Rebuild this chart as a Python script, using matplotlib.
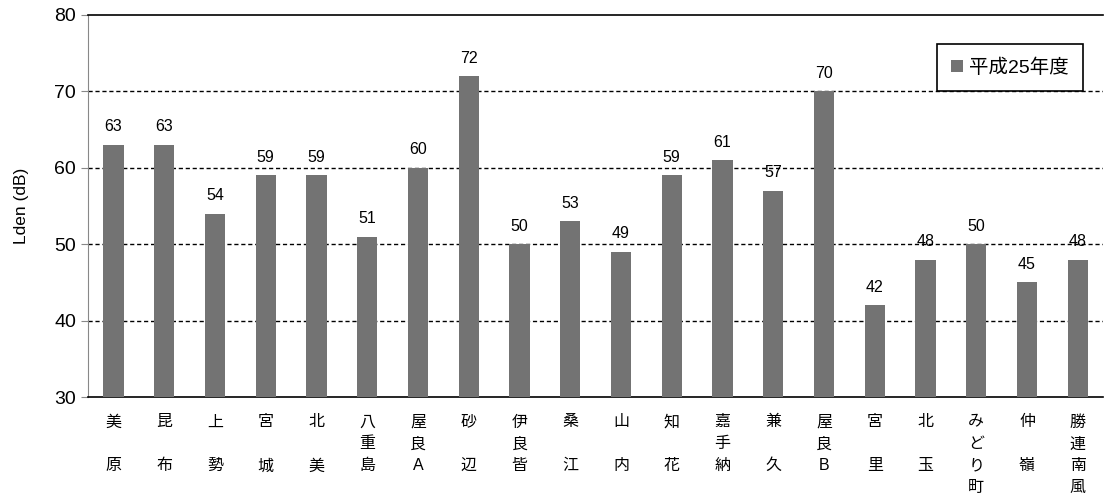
import numpy as np
import matplotlib
matplotlib.use('Agg')
import matplotlib.pyplot as plt

plt.rcParams['font.family'] = ['Liberation Sans', 'Noto Sans CJK JP', 'DejaVu Sans']

# 測定地点と Lden 値
sites = ['美原', '昆布', '上勢', '宮城', '北美', '八重島', '屋良A', '砂辺', '伊良皆', '桑江',
         '山内', '知花', '嘉手納', '兼久', '屋良B', '宮里', '北玉', 'みどり町', '仲嶺', '勝連南風']
lden = [63, 63, 54, 59, 59, 51, 60, 72, 50, 53, 49, 59, 61, 57, 70, 42, 48, 50, 45, 48]
series_name = '平成25年度'
yticks = [30, 40, 50, 60, 70, 80]


def vertical(name):
    # 2文字は間に空行 (Excel風)
    if len(name) == 2:
        return name[0] + '\n\n' + name[1]
    return '\n'.join(name)


fig = plt.figure(figsize=(11.1, 4.97), dpi=100)
ax = fig.add_axes([0.0793, 0.201, 0.9145, 0.769])

x = np.arange(len(sites))
bars = ax.bar(x, lden, width=0.4, color='#737373', label=series_name, zorder=3)

for xi, v in zip(x, lden):
    ax.annotate(str(v), (xi, v), xytext=(0, 7.5), textcoords='offset points',
                ha='center', va='bottom', fontsize=11.5)

ax.set_ylim(30, 80)
ax.set_xlim(-0.5, len(sites) - 0.5)
ax.set_yticks(yticks)
ax.tick_params(axis='y', labelsize=14, length=5, color='#888888', direction='out')
ax.set_xticks(x)
ax.set_xticklabels([vertical(s) for s in sites], fontsize=11.5, linespacing=1.58, va='top')
ax.tick_params(axis='x', length=0, pad=12.5)

for t in yticks[1:-1]:
    ax.axhline(t, color='black', linestyle=(0, (3, 2)), linewidth=1, zorder=1)

ax.spines['right'].set_visible(False)
ax.spines['top'].set_color('black')
ax.spines['top'].set_linewidth(1.2)
ax.spines['left'].set_color('#888888')
ax.spines['bottom'].set_color('black')
ax.spines['bottom'].set_linewidth(1.2)

ax.set_ylabel('Lden (dB)', fontsize=12.5, labelpad=18)

leg = ax.legend(loc='upper right', bbox_to_anchor=(0.99, 0.95), fontsize=14,
                handlelength=0.6, handleheight=0.6, handletextpad=0.3,
                fancybox=False, edgecolor='black', framealpha=1, borderpad=0.75)
leg.get_frame().set_linewidth(1.2)

fig.savefig('out.png', dpi=100)
